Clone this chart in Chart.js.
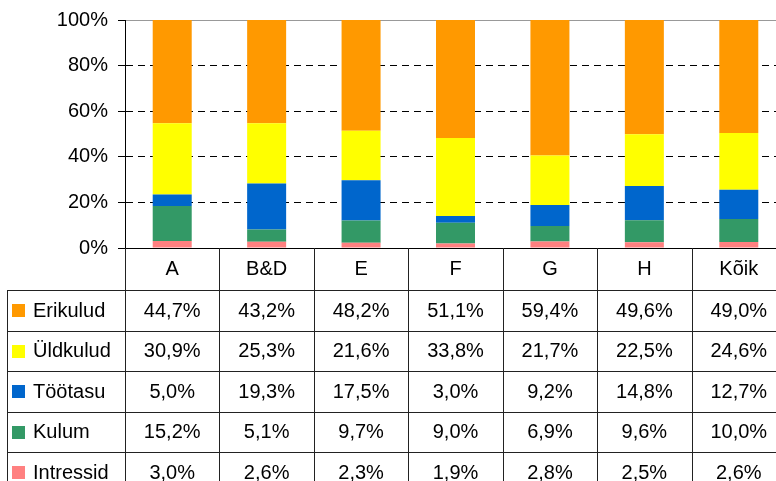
<!DOCTYPE html>
<html>
<head>
<meta charset="utf-8">
<script src="https://cdn.jsdelivr.net/npm/chart.js"></script>
<style>
    html, body {margin: 0; padding: 0; overflow: hidden; background: #fff;}
    #wrap {position: absolute; left: 0; top: 0;}
</style>
</head>
<body>
<div id="wrap"><canvas id="chart" width="787" height="481"></canvas></div>
<script>
// data
const categories = ['A', 'B&D', 'E', 'F', 'G', 'H', 'Kõik'];
const erikulud = [44.7, 43.2, 48.2, 51.1, 59.4, 49.6, 49.0];
const uldkulud = [30.9, 25.3, 21.6, 33.8, 21.7, 22.5, 24.6];
const tootasu = [5.0, 19.3, 17.5, 3.0, 9.2, 14.8, 12.7];
const kulum = [15.2, 5.1, 9.7, 9.0, 6.9, 9.6, 10.0];
const intressid = [3.0, 2.6, 2.3, 1.9, 2.8, 2.5, 2.6];
const yTicks = [0, 20, 40, 60, 80, 100];

const FONT = '"Liberation Sans", Arial, Helvetica, sans-serif';

// table rows, top to bottom
const rows = [
    {label: 'Erikulud', data: erikulud, color: '#FF9900'},
    {label: 'Üldkulud', data: uldkulud, color: '#FFFF00'},
    {label: 'Töötasu', data: tootasu, color: '#0066CC'},
    {label: 'Kulum', data: kulum, color: '#339966'},
    {label: 'Intressid', data: intressid, color: '#FF8080'}
];

// 100% stacked: share of each column total
const totals = categories.map((c, i) => rows.reduce((s, r) => s + r.data[i], 0));
const share = (arr) => arr.map((v, i) => v / totals[i] * 100);

const fmt = (v) => v.toFixed(1).replace('.', ',') + '%';

// Draws the data table under the plot, aligned to the x scale
const tablePlugin = {
    id: 'dataTable',
    afterDraw(chart) {
        const ctx = chart.ctx;
        const area = chart.chartArea;
        const x = chart.scales.x;
        const colW = (area.right - area.left) / categories.length;
        const top = area.bottom;
        const headerH = 42;
        const rowH = 40.5;
        const tableLeft = 7;
        const bottom = chart.height;

        ctx.save();
        ctx.strokeStyle = '#222';
        ctx.lineWidth = 1;

        // vertical lines
        for (let i = 0; i <= categories.length; i++) {
            const lx = Math.round(area.left + i * colW) + 0.5;
            ctx.beginPath();
            ctx.moveTo(lx, top);
            ctx.lineTo(lx, bottom);
            ctx.stroke();
        }
        ctx.beginPath();
        ctx.moveTo(tableLeft + 0.5, top + headerH);
        ctx.lineTo(tableLeft + 0.5, bottom);
        ctx.stroke();

        // horizontal lines
        for (let r = 0; r <= rows.length; r++) {
            const ly = Math.round(top + headerH + r * rowH) + 0.5;
            ctx.beginPath();
            ctx.moveTo(tableLeft, ly);
            ctx.lineTo(chart.width, ly);
            ctx.stroke();
        }

        ctx.fillStyle = '#000';
        ctx.font = '20px ' + FONT;
        ctx.textBaseline = 'middle';
        ctx.textAlign = 'center';

        // header
        categories.forEach((c, i) => {
            ctx.fillText(c, x.getPixelForValue(i), top + headerH / 2);
        });

        // rows
        rows.forEach((row, r) => {
            const cy = top + headerH + r * rowH + rowH / 2 + 1;
            ctx.fillStyle = row.color;
            ctx.fillRect(12, Math.round(cy - 7), 13, 13);
            ctx.fillStyle = '#000';
            ctx.textAlign = 'left';
            ctx.fillText(row.label, 33, cy);
            ctx.textAlign = 'center';
            row.data.forEach((v, i) => {
                ctx.fillText(fmt(v), x.getPixelForValue(i), cy);
            });
        });
        ctx.restore();
    }
};

const datasets = rows.slice().reverse().map(r => ({
    label: r.label,
    data: share(r.data),
    backgroundColor: r.color,
    borderWidth: 0,
    barPercentage: 1,
    categoryPercentage: 0.413
}));

new Chart(document.getElementById('chart'), {
    type: 'bar',
    data: {labels: categories, datasets: datasets},
    options: {
        responsive: false,
        animation: false,
        devicePixelRatio: 1,
        layout: {padding: {top: 20, right: 1, bottom: 225, left: 0}},
        plugins: {
            legend: {display: false},
            tooltip: {enabled: false}
        },
        scales: {
            x: {
                stacked: true,
                ticks: {display: false},
                grid: {display: false},
                border: {display: true, color: '#000', width: 1}
            },
            y: {
                stacked: true,
                min: 0,
                max: 100,
                afterFit(scale) {
                    scale.width = 125;
                    scale.paddingTop = 0;
                    scale.paddingBottom = 0;
                },
                afterBuildTicks(scale) {
                    scale.ticks = yTicks.map(v => ({value: v}));
                },
                ticks: {
                    padding: 10,
                    color: '#000',
                    font: {family: FONT, size: 20},
                    callback: (v) => v + '%'
                },
                grid: {
                    color: (c) => (c.tick && c.tick.value === 100) ? '#999' : '#000',
                    tickColor: '#000',
                    tickLength: 7,
                    lineWidth: 1
                },
                border: {
                    display: true,
                    color: '#000',
                    width: 1,
                    dash: (c) => (c.tick && c.tick.value > 0 && c.tick.value < 100) ? [7, 5] : []
                }
            }
        }
    },
    plugins: [tablePlugin]
});
</script>
</body>
</html>
